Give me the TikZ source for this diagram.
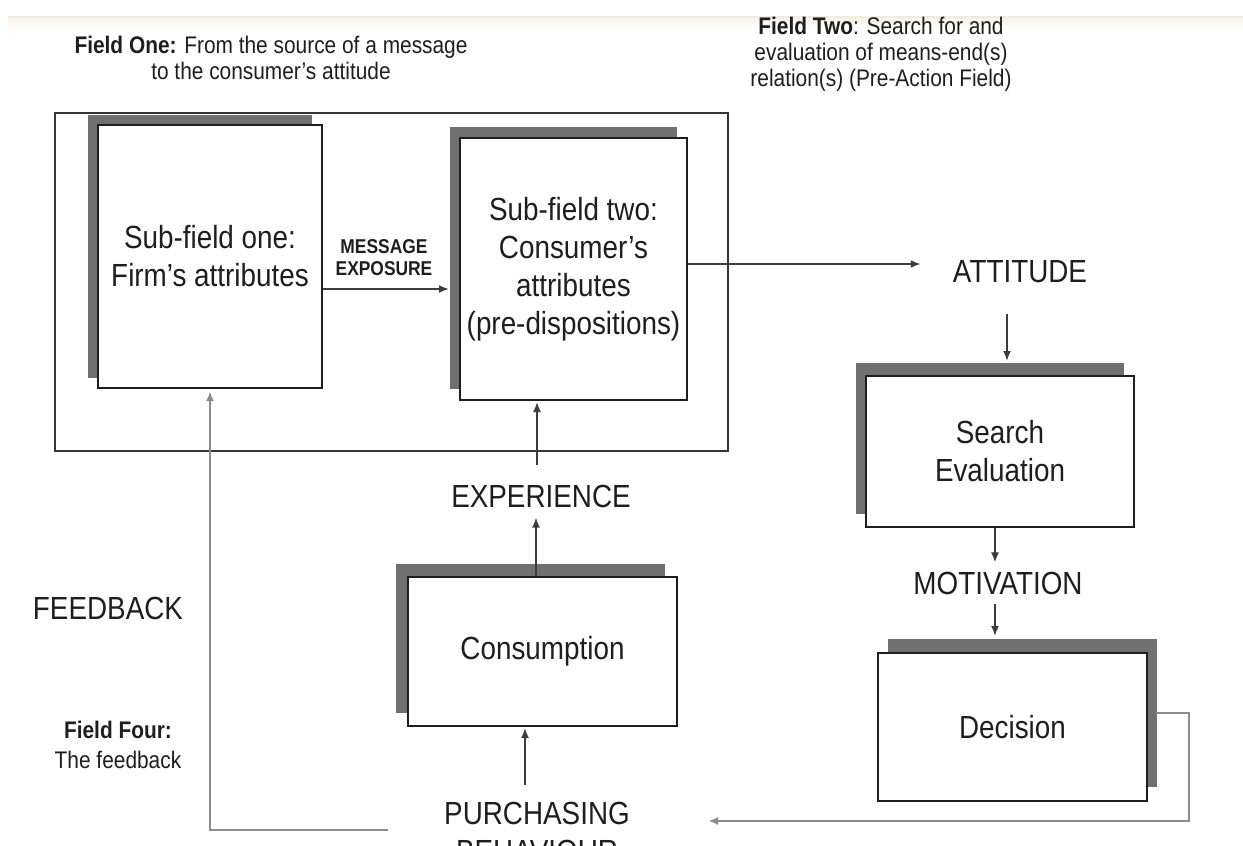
\documentclass[tikz,border=0pt]{standalone}
\usepackage{fontspec}
\setmainfont{Liberation Sans}[FakeStretch=0.87]
\usetikzlibrary{shadows,arrows.meta}
\definecolor{ink}{RGB}{30,30,30}
\definecolor{shadegray}{RGB}{112,112,112}
\definecolor{wire}{RGB}{60,60,60}
\definecolor{loopline}{RGB}{140,140,140}
\definecolor{topline}{RGB}{243,234,220}

\begin{document}
\begin{tikzpicture}[x=1pt,y=-1pt,
  every node/.style={text=ink, inner sep=0pt},
  big/.style={font=\fontsize{32}{38}\selectfont, align=center},
  note/.style={font=\fontsize{24}{26}\selectfont, align=center},
  box/.style={draw=ink, line width=2pt, fill=white, big},
  frameline/.style={draw=ink!90, line width=2pt},
  conn/.style={draw=wire, line width=1.8pt, -{Latex[length=10pt,width=8pt]}},
  soft/.style={draw=loopline, line width=2.2pt, -{Latex[length=10pt,width=8pt]}},
  backplate/.style 2 args={drop shadow={shadow xshift=#1pt, shadow yshift=#2pt, fill=shadegray, opacity=1}}
]
\useasboundingbox (0,0) rectangle (1243,846);
\clip (0,0) rectangle (1243,846);

% faint rule along the top edge
\fill[top color=topline!60, bottom color=white] (8,18) rectangle (1243,30);
\draw[topline, line width=2pt] (8,17) -- (1243,17);

% headings of the fields (base = baseline of the last line)
\node[note, anchor=base] (fieldone) at (271,79.6)
  {\textbf{Field One:} From the source of a message\\to the consumer's attitude};
\node[note, anchor=base] (fieldtwo) at (881,86.6)
  {\textbf{Field Two}: Search for and\\evaluation of means-end(s)\\relation(s) (Pre-Action Field)};
\node[note, font=\fontsize{24}{30}\selectfont, anchor=base] (fieldfour) at (118,768.6)
  {\textbf{Field Four:}\\The feedback};

% field one frame
\node[frameline, minimum width=673pt, minimum height=338pt] (field1) at (391.5,282) {};

% boxes with offset plates
\node[box, backplate={-10}{10}, minimum width=224pt, minimum height=263pt] (firm) at (210,256.5)
  {Sub-field one:\\Firm’s attributes};
\node[box, backplate={-10}{11}, minimum width=227pt, minimum height=262pt] (cons) at (573.5,269)
  {Sub-field two:\\Consumer’s\\attributes\\(pre-dispositions)};
\node[box, backplate={-10}{13}, minimum width=268pt, minimum height=151pt] (search) at (1000,451.5)
  {Search\\Evaluation};
\node[box, backplate={10}{14}, minimum width=269pt, minimum height=148pt] (decision) at (1012.5,727)
  {Decision};
\node[box, backplate={-12}{13.5}, minimum width=269pt, minimum height=149pt] (consumption) at (542.5,651.5)
  {Consumption};

% free-standing labels
\node[big, anchor=base] (attitude) at (1020,282.5) {ATTITUDE};
\node[big, anchor=base] (motivation) at (998,594.5) {MOTIVATION};
\node[big, anchor=base] (experience) at (541,507.5) {EXPERIENCE};
\node[big, anchor=base] (purchase) at (537,862.5) {PURCHASING\\BEHAVIOUR};
\node[big, anchor=base] (feedback) at (108,619.5) {FEEDBACK};
\node[font=\bfseries\fontsize{20}{22}\selectfont, align=center, anchor=base] (msg) at (384,275.2)
  {MESSAGE\\EXPOSURE};

% connectors
\draw[conn, shorten >=10pt] ([yshift=-32.5pt]firm.east) -- ([yshift=-32.5pt]firm.east -| cons.west);
\draw[conn, shorten >=32pt] ([yshift=5pt]cons.east) -- ([yshift=5pt]cons.east -| attitude.west);
\draw[conn, shorten <=30.5pt, shorten >=14pt] ([xshift=-13pt]attitude.south) -- ([xshift=-13pt]attitude.south |- search.north);
\draw[conn, shorten >=9.5pt] ([xshift=-5pt]search.south) -- ([xshift=-5pt]search.south |- motivation.north);
\draw[conn, shorten <=8.5pt, shorten >=16pt] ([xshift=-3pt]motivation.south) -- ([xshift=-3pt]motivation.south |- decision.north);
\draw[soft, shorten >=78pt] ([xshift=8pt,yshift=14pt]decision.east) -- ++(33,0) |- ([yshift=41.5pt]purchase.base east);
\draw[conn, shorten <=16.5pt, shorten >=1pt] ([xshift=-12pt]purchase.north) -- ([xshift=-12pt]purchase.north |- consumption.south);
\draw[conn, shorten >=9.5pt] ([xshift=-6.5pt]consumption.north) -- ([xshift=-6.5pt]consumption.north |- experience.south);
\draw[conn, shorten <=19.6pt, shorten >=1pt] ([xshift=-4pt]experience.north) -- ([xshift=-4pt]experience.north |- cons.south);
\draw[soft, shorten >=2pt] ([xshift=-56pt,yshift=32.5pt]purchase.base west) -| (firm.south);
\end{tikzpicture}
\end{document}
